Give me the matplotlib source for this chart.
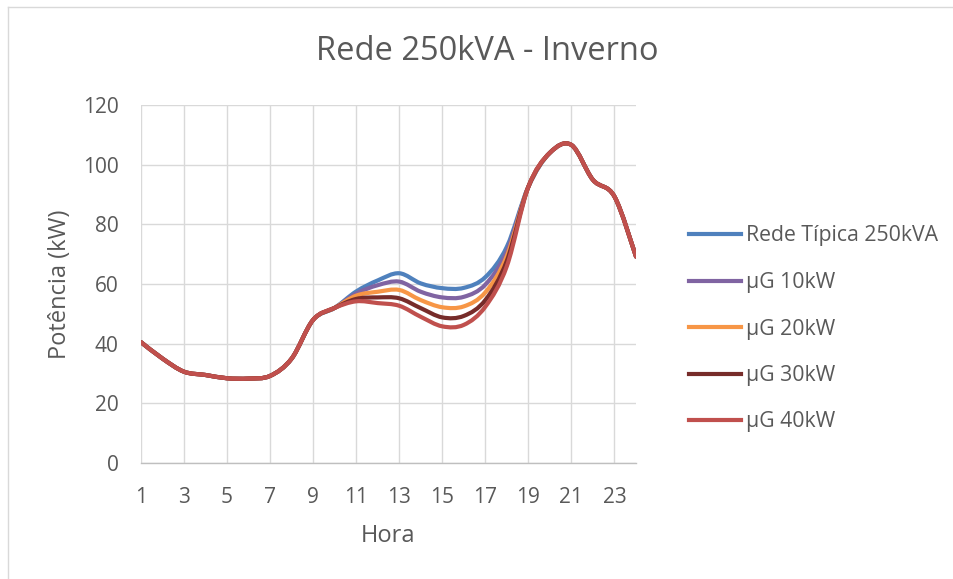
import matplotlib
matplotlib.use("Agg")
import matplotlib.pyplot as plt
from matplotlib.path import Path
from matplotlib.patches import PathPatch
from matplotlib.lines import Line2D
import numpy as np

plt.rcParams["font.family"] = ["Open Sans", "DejaVu Sans"]

hours = list(range(1, 25))

rede_tipica = [40.5, 35.0, 30.6, 29.5, 28.4, 28.3, 29.2, 35.0, 48.0, 52.0, 57.5, 61.2,
               63.6, 60.2, 58.6, 58.7, 62.3, 72.5, 92.6, 104.0, 106.6, 94.9, 89.3, 69.2]
ug_10 = [40.5, 35.0, 30.6, 29.5, 28.4, 28.3, 29.2, 35.0, 48.0, 52.0, 56.8, 59.6,
         60.8, 57.4, 55.5, 55.7, 59.8, 71.0, 92.6, 104.0, 106.6, 94.9, 89.3, 69.2]
ug_20 = [40.5, 35.0, 30.6, 29.5, 28.4, 28.3, 29.2, 35.0, 48.0, 52.0, 56.1, 57.4,
         58.0, 54.6, 52.2, 52.5, 57.2, 69.4, 92.6, 104.0, 106.6, 94.9, 89.3, 69.2]
ug_30 = [40.5, 35.0, 30.6, 29.5, 28.4, 28.3, 29.2, 35.0, 48.0, 52.0, 55.0, 55.5,
         55.2, 51.9, 48.8, 49.3, 54.6, 67.8, 92.6, 104.0, 106.6, 94.9, 89.3, 69.2]
ug_40 = [40.5, 35.0, 30.6, 29.5, 28.4, 28.3, 29.2, 35.0, 48.0, 52.0, 54.2, 53.6,
         52.7, 49.0, 45.8, 46.3, 52.4, 66.0, 92.6, 104.0, 106.6, 94.9, 89.3, 69.2]

series_names = ["Rede Típica 250kVA", "µG 10kW", "µG 20kW", "µG 30kW", "µG 40kW"]
series_vals = [rede_tipica, ug_10, ug_20, ug_30, ug_40]
colors = ["#4F81BD", "#8064A2", "#F79646", "#772C2A", "#C0504D"]

y_ticks = [0, 20, 40, 60, 80, 100, 120]
x_ticks = list(range(1, 24, 2))
TXT = "#595959"
LW = 3.0


def smooth_path(xs, ys):
    # Catmull-Rom style bezier, like Excel's "smoothed line"
    pts = np.column_stack([xs, ys]).astype(float)
    ext = np.vstack([pts[0], pts, pts[-1]])
    verts = [pts[0]]
    codes = [Path.MOVETO]
    for i in range(1, len(ext) - 2):
        p0, p1, p2, p3 = ext[i - 1], ext[i], ext[i + 1], ext[i + 2]
        c1 = p1 + (p2 - p0) / 6.0
        c2 = p2 - (p3 - p1) / 6.0
        verts += [c1, c2, p2]
        codes += [Path.CURVE4] * 3
    return Path(verts, codes)


fig = plt.figure(figsize=(9.54, 5.79), dpi=100)
ax = fig.add_axes([141 / 954, 1 - 463 / 579, (636 - 141) / 954, (463 - 105) / 579])

for vals, c in zip(series_vals, colors):
    ax.add_patch(PathPatch(smooth_path(hours, vals), facecolor="none", edgecolor=c,
                           lw=LW, capstyle="round", joinstyle="round", zorder=3))

ax.set_xlim(1, 24)
ax.set_ylim(0, 120)
ax.set_xticks(x_ticks)
ax.set_yticks(y_ticks)
ax.grid(True, color="#D9D9D9", lw=1.0)
ax.set_axisbelow(True)
for s in ["top", "right", "left"]:
    ax.spines[s].set_visible(False)
ax.spines["bottom"].set_color("#BFBFBF")
ax.spines["bottom"].set_linewidth(1.0)
ax.tick_params(length=0, labelsize=15, colors=TXT)
ax.tick_params(axis="x", pad=17)
ax.tick_params(axis="y", pad=16)

ax.set_xlabel("Hora", fontsize=17, color=TXT, labelpad=12)
ax.set_ylabel("Potência (kW)", fontsize=17, color=TXT, labelpad=8)
fig.text(487 / 954, 1 - 51 / 579, "Rede 250kVA - Inverno", ha="center", va="center",
         fontsize=23.5, color=TXT)

handles = [Line2D([], [], color=c, lw=LW) for c in colors]
fig.legend(handles, series_names, loc="center left", bbox_to_anchor=(689 / 954, 1 - 329 / 579),
           frameon=False, fontsize=15.3, labelcolor=TXT, handlelength=2.45,
           handletextpad=0.25, labelspacing=1.2, borderaxespad=0, borderpad=0)

# chart frame: only the top and left edges fall inside the picture
fig.add_artist(Line2D([8 / 954, 8 / 954], [0, 1 - 6.5 / 579], transform=fig.transFigure,
                      color="#D9D9D9", lw=1.0))
fig.add_artist(Line2D([8 / 954, 1], [1 - 6.5 / 579, 1 - 6.5 / 579], transform=fig.transFigure,
                      color="#D9D9D9", lw=1.0))

fig.savefig("out.png", dpi=100)
